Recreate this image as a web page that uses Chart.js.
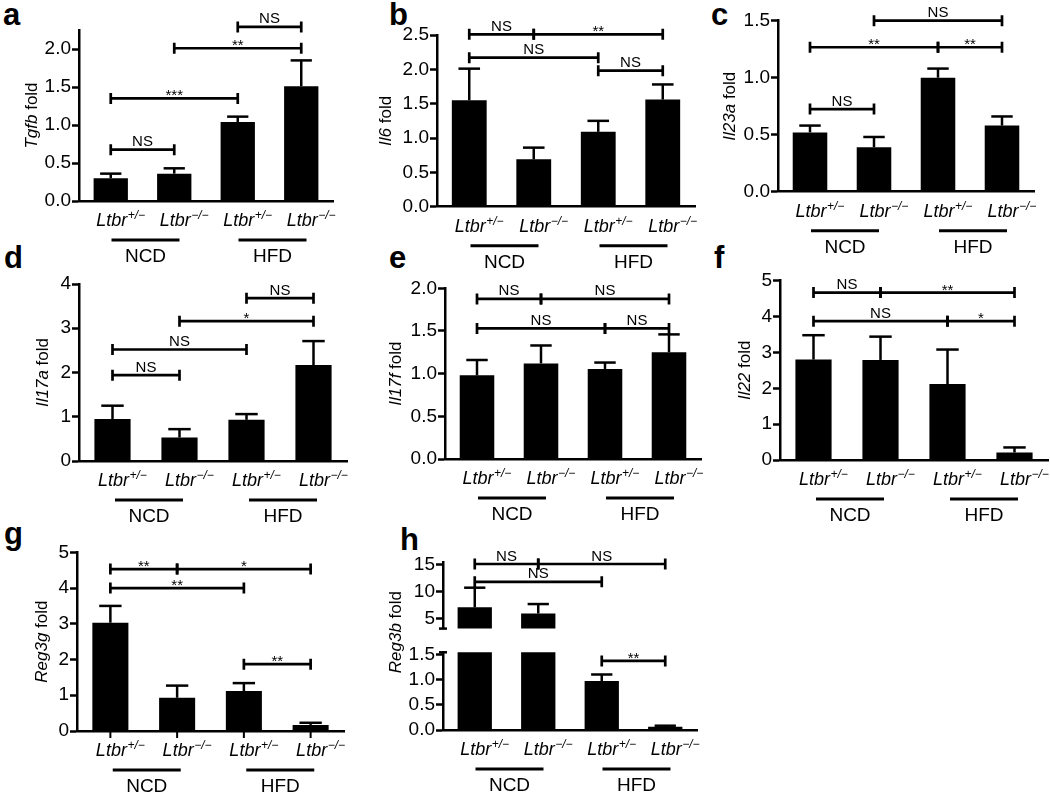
<!DOCTYPE html>
<html><head><meta charset="utf-8">
<script src="https://cdn.jsdelivr.net/npm/chart.js@4"></script>
<style>
html,body{margin:0;padding:0;background:#fff;}
body{width:1050px;height:793px;position:relative;overflow:hidden;}
canvas{position:absolute;}
.lt{position:absolute;font:bold 31px "Liberation Sans",Arial,sans-serif;line-height:30px;color:#000;}
</style></head><body>
<div class="lt" style="left:3px;top:0px">a</div>
<div class="lt" style="left:389px;top:0px">b</div>
<div class="lt" style="left:711px;top:0px">c</div>
<div class="lt" style="left:4px;top:243px">d</div>
<div class="lt" style="left:389px;top:243px">e</div>
<div class="lt" style="left:714px;top:243px">f</div>
<div class="lt" style="left:4px;top:519px">g</div>
<div class="lt" style="left:400px;top:525px">h</div>
<script>
// ---------- data ----------
const catBase = ['Ltbr', 'Ltbr', 'Ltbr', 'Ltbr'];
const catSup = ['+/\u2212', '\u2212/\u2212', '+/\u2212', '\u2212/\u2212'];
const groupLabels = ['NCD', 'HFD'];

const tgfbMean = [0.30, 0.36, 1.04, 1.51];
const tgfbSem  = [0.06, 0.07, 0.07, 0.34];
const il6Mean  = [1.55, 0.69, 1.09, 1.56];
const il6Sem   = [0.46, 0.17, 0.16, 0.22];
const il23aMean = [0.52, 0.39, 1.00, 0.58];
const il23aSem  = [0.06, 0.09, 0.08, 0.08];
const il17aMean = [0.95, 0.53, 0.93, 2.17];
const il17aSem  = [0.30, 0.19, 0.13, 0.54];
const il17fMean = [0.98, 1.12, 1.055, 1.25];
const il17fSem  = [0.18, 0.21, 0.075, 0.21];
const il22Mean = [2.80, 2.79, 2.12, 0.21];
const il22Sem  = [0.68, 0.65, 0.96, 0.14];
const reg3gMean = [3.03, 0.93, 1.12, 0.17];
const reg3gSem  = [0.47, 0.34, 0.22, 0.06];
const reg3bMean = [7.05, 5.9, 0.97, 0.065];
const reg3bSem  = [3.65, 1.76, 0.13, 0.02];

// y tick values
const ticksTgfb = [0, 0.5, 1.0, 1.5, 2.0];
const ticksIl6 = [0, 0.5, 1.0, 1.5, 2.0, 2.5];
const ticksIl23a = [0, 0.5, 1.0, 1.5];
const ticksIl17a = [0, 1, 2, 3, 4];
const ticksIl17f = [0, 0.5, 1.0, 1.5, 2.0];
const ticksIl22 = [0, 1, 2, 3, 4, 5];
const ticksReg3g = [0, 1, 2, 3, 4, 5];
const ticksReg3bUpper = [5, 10, 15];
const ticksReg3bLower = [0, 0.5, 1.0, 1.5];

// significance brackets: [from, to, level, label]
const sigTgfb = [[0,1,0.675,'NS'],[0,2,1.35,'***'],[1,3,2.01,'**'],[2,3,2.29,'NS']];
const sigIl6 = [[0,1,2.51,'NS'],[1,3,2.51,'**'],[0,2,2.17,'NS'],[2,3,1.98,'NS']];
const sigIl23a = [[0,1,0.725,'NS'],[0,2,1.267,'**'],[2,3,1.267,'**'],[1,3,1.5,'NS']];
const sigIl17a = [[0,1,1.94,'NS'],[0,2,2.52,'NS'],[1,3,3.16,'*'],[2,3,3.68,'NS']];
const sigIl17f = [[0,1,1.875,'NS'],[1,3,1.875,'NS'],[0,2,1.53,'NS'],[2,3,1.53,'NS']];
const sigIl22 = [[0,1,4.67,'NS'],[1,3,4.67,'**'],[0,2,3.87,'NS'],[2,3,3.87,'*']];
const sigReg3g = [[0,1,4.53,'**'],[1,3,4.53,'*'],[0,2,4.0,'**'],[2,3,1.87,'**']];
const sigReg3bUpper = [[0,1,15.1,'NS'],[1,3,15.1,'NS'],[0,2,11.8,'NS']];
const sigReg3bLower = [[2,3,1.37,'**']];

// ---------- drawing ----------
const FONT = '"Liberation Sans", Arial, sans-serif';
const f1 = v => v.toFixed(1);
const f0 = v => String(v);

function makeDecor(c) {
  return {
    id: 'decor',
    afterDatasetsDraw(chart) {
      const ctx = chart.ctx, xs = chart.scales.x, ys = chart.scales.y, A = chart.chartArea;
      const meta = chart.getDatasetMeta(0);
      const px = i => xs.getPixelForValue(i);
      ctx.save();
      ctx.fillStyle = '#000'; ctx.strokeStyle = '#000'; ctx.lineCap = 'butt';
      // error bars (upper)
      c.mean.forEach((m, i) => {
        if (m < ys.min || m > ys.max) return;
        const cx = px(i), bw = meta.data[i].width;
        const yb = ys.getPixelForValue(m), yt = ys.getPixelForValue(m + c.sem[i]);
        ctx.lineWidth = 2.5;
        ctx.beginPath(); ctx.moveTo(cx, yb); ctx.lineTo(cx, yt); ctx.stroke();
        ctx.beginPath(); ctx.moveTo(cx - bw * 0.31, yt); ctx.lineTo(cx + bw * 0.31, yt); ctx.stroke();
      });
      // significance brackets
      (c.sig || []).forEach(([i, j, lv, lab]) => {
        const x1 = px(i), x2 = px(j), yy = ys.getPixelForValue(lv);
        ctx.lineWidth = 2.7;
        ctx.beginPath();
        ctx.moveTo(x1, yy); ctx.lineTo(x2, yy);
        ctx.moveTo(x1, yy - 5.5); ctx.lineTo(x1, yy + 5.5);
        ctx.moveTo(x2, yy - 5.5); ctx.lineTo(x2, yy + 5.5);
        ctx.stroke();
        ctx.textAlign = 'center'; ctx.textBaseline = 'alphabetic';
        ctx.font = '15px ' + FONT;
        ctx.fillText(lab, (x1 + x2) / 2, lab[0] === '*' ? yy + 2 : yy - 3.5);
      });
      // x tick marks
      if (c.xticks) {
        ctx.lineWidth = 2;
        for (let i = 0; i < catBase.length; i++) {
          ctx.beginPath(); ctx.moveTo(px(i), A.bottom); ctx.lineTo(px(i), A.bottom + 7); ctx.stroke();
        }
      }
      // category labels and groups
      if (c.cats) {
        const by = A.bottom + 25;
        ctx.textAlign = 'left'; ctx.textBaseline = 'alphabetic';
        for (let i = 0; i < catBase.length; i++) {
          ctx.font = 'italic 18px ' + FONT;
          const wb = ctx.measureText(catBase[i]).width;
          const sx = px(i) - wb / 2 + 1;
          ctx.fillText(catBase[i], sx, by);
          ctx.font = 'italic 12px ' + FONT;
          ctx.fillText(catSup[i], sx + wb + 0.5, by - 7);
        }
        for (let g = 0; g < groupLabels.length; g++) {
          const mid = (px(2 * g) + px(2 * g + 1)) / 2 + 3;
          ctx.lineWidth = 3;
          ctx.beginPath(); ctx.moveTo(mid - 34, A.bottom + 39); ctx.lineTo(mid + 34, A.bottom + 39); ctx.stroke();
          ctx.font = '19px ' + FONT; ctx.textAlign = 'center';
          ctx.fillText(groupLabels[g], mid, A.bottom + 61);
          ctx.textAlign = 'left';
        }
      }
      // y title
      if (c.title) {
        const tx = A.left - c.titleOff, ty = (A.top + A.bottom) / 2 + (c.titleDy || 0);
        ctx.translate(tx, ty); ctx.rotate(-Math.PI / 2);
        ctx.textBaseline = 'middle'; ctx.textAlign = 'left';
        ctx.font = 'italic 17px ' + FONT; const w1 = ctx.measureText(c.title[0]).width;
        ctx.font = '17px ' + FONT; const w2 = ctx.measureText(c.title[1]).width;
        const s = -(w1 + w2) / 2;
        ctx.font = 'italic 17px ' + FONT; ctx.fillText(c.title[0], s, 0);
        ctx.font = '17px ' + FONT; ctx.fillText(c.title[1], s + w1, 0);
        ctx.setTransform(1, 0, 0, 1, 0, 0);
      }
      // axis break caps
      ctx.lineWidth = 2.5;
      if (c.capBottom) { ctx.beginPath(); ctx.moveTo(A.left - 4, A.bottom); ctx.lineTo(A.left + 4, A.bottom); ctx.stroke(); }
      if (c.capTop) { ctx.beginPath(); ctx.moveTo(A.left - 4, A.top); ctx.lineTo(A.left + 4, A.top); ctx.stroke(); }
      ctx.restore();
    }
  };
}

function makeChart(L, c) {
  const cv = document.createElement('canvas');
  const left = L.axisX - 78;
  const top = Math.round(L.top - (L.topRoom || 45));
  const right = Math.min(L.axisR + 6, 1050);
  const bottom = Math.round(L.bottom + (L.noX ? 14 : 70));
  cv.width = right - left; cv.height = bottom - top;
  cv.style.left = left + 'px'; cv.style.top = top + 'px';
  cv.style.width = (right - left) + 'px'; cv.style.height = (bottom - top) + 'px';
  document.body.appendChild(cv);
  new Chart(cv, {
    type: 'bar',
    data: {
      labels: catBase.map((b, i) => b + catSup[i]),
      datasets: [{ data: c.mean, backgroundColor: '#000', borderWidth: 0, barPercentage: 0.54, categoryPercentage: 1 }]
    },
    options: {
      responsive: false, animation: false, devicePixelRatio: 1,
      layout: { padding: { left: 0, right: right - L.axisR, top: L.top - top, bottom: L.noX ? bottom - L.bottom : 0 } },
      plugins: { legend: { display: false }, tooltip: { enabled: false } },
      scales: {
        x: {
          display: !L.noX,
          grid: { display: false },
          border: { display: true, color: '#000', width: 2.5 },
          ticks: { display: false },
          afterFit: s => { s.height = bottom - L.bottom; }
        },
        y: {
          min: L.min, max: L.max,
          afterBuildTicks: s => { s.ticks = c.ticks.map(v => ({ value: v })); },
          ticks: { color: '#000', font: { family: FONT, size: 19 }, padding: 1, callback: v => c.fmt(v) },
          grid: { drawOnChartArea: false, drawTicks: true, tickLength: 7, tickWidth: 2.5, color: '#000' },
          border: { display: true, color: '#000', width: 2.5 },
          afterFit: s => { s.width = L.axisX - left; }
        }
      }
    },
    plugins: [makeDecor(c)]
  });
}

makeChart({ axisX: 79, axisR: 333, top: 30, bottom: 201, min: 0, max: 2.25 },
  { mean: tgfbMean, sem: tgfbSem, ticks: ticksTgfb, fmt: f1, sig: sigTgfb, cats: true, title: ['Tgfb', ' fold'], titleOff: 47 });
makeChart({ axisX: 437, axisR: 695, top: 35, bottom: 206.7, min: 0, max: 2.5 },
  { mean: il6Mean, sem: il6Sem, ticks: ticksIl6, fmt: f1, sig: sigIl6, cats: true, title: ['Il6', ' fold'], titleOff: 51 });
makeChart({ axisX: 778, axisR: 1034, top: 20.7, bottom: 191.7, min: 0, max: 1.5 },
  { mean: il23aMean, sem: il23aSem, ticks: ticksIl23a, fmt: f1, sig: sigIl23a, cats: true, title: ['Il23a', ' fold'], titleOff: 48 });
makeChart({ axisX: 79, axisR: 347, top: 284, bottom: 461, min: 0, max: 4 },
  { mean: il17aMean, sem: il17aSem, ticks: ticksIl17a, fmt: f0, sig: sigIl17a, cats: true, title: ['Il17a', ' fold'], titleOff: 36 });
makeChart({ axisX: 445, axisR: 701, top: 288.3, bottom: 459, min: 0, max: 2 },
  { mean: il17fMean, sem: il17fSem, ticks: ticksIl17f, fmt: f1, sig: sigIl17f, cats: true, title: ['Il17f', ' fold'], titleOff: 49 });
makeChart({ axisX: 780, axisR: 1048, top: 280.7, bottom: 460, min: 0, max: 5 },
  { mean: il22Mean, sem: il22Sem, ticks: ticksIl22, fmt: f0, sig: sigIl22, cats: true, title: ['Il22', ' fold'], titleOff: 35 });
makeChart({ axisX: 77, axisR: 344, top: 552.3, bottom: 731, min: 0, max: 5 },
  { mean: reg3gMean, sem: reg3gSem, ticks: ticksReg3g, fmt: f0, sig: sigReg3g, cats: true, xticks: true, title: ['Reg3g', ' fold'], titleOff: 35 });
makeChart({ axisX: 443, axisR: 697, top: 562.4, bottom: 642.3, min: 3.1, max: 15.4, noX: true },
  { mean: reg3bMean, sem: reg3bSem, ticks: ticksReg3bUpper, fmt: f0, sig: sigReg3bUpper, capBottom: true });
makeChart({ axisX: 443, axisR: 697, top: 652.3, bottom: 730, min: 0, max: 1.54, topRoom: 100 },
  { mean: reg3bMean, sem: reg3bSem, ticks: ticksReg3bLower, fmt: f1, sig: sigReg3bLower, cats: true, capTop: true, title: ['Reg3b', ' fold'], titleOff: 47, titleDy: -59 });
</script>
</body></html>
